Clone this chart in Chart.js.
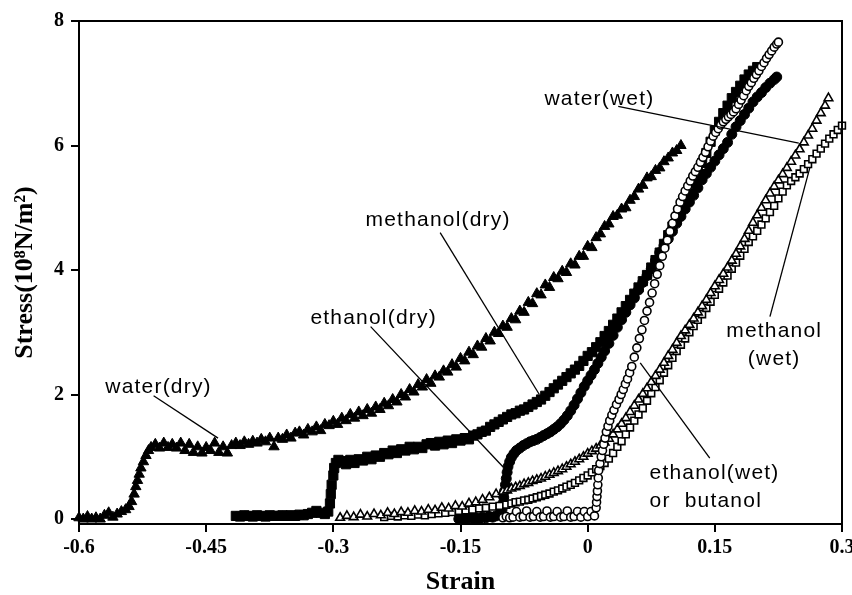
<!DOCTYPE html>
<html>
<head>
<meta charset="utf-8">
<script src="https://cdn.jsdelivr.net/npm/chart.js@4.4.0/dist/chart.umd.min.js"></script>
<style>
  body { margin: 0; background: #fff; }
  canvas { display: block; }
</style>
</head>
<body>
<canvas id="stressChart" width="852" height="595"></canvas>
<script>
// Оси
const xTicks = [-0.6, -0.45, -0.3, -0.15, 0, 0.15, 0.3];
const yTicks = [0, 2, 4, 6, 8];

// water(dry) - закрашенные треугольники
const waterDryStrain = [-0.600, -0.595, -0.590, -0.585, -0.580, -0.575, -0.570, -0.565, -0.560, -0.555, -0.550, -0.545, -0.541,
  -0.538, -0.535, -0.533, -0.531, -0.529, -0.527, -0.524, -0.521, -0.518, -0.515, -0.510, -0.505, -0.500, -0.495, -0.490,
  -0.485, -0.480, -0.475, -0.470, -0.465, -0.460, -0.455, -0.450, -0.445, -0.440, -0.435, -0.430, -0.425, -0.420, -0.415,
  -0.410, -0.405, -0.400, -0.395, -0.390, -0.385, -0.380, -0.375, -0.370, -0.365, -0.360, -0.355, -0.350, -0.345, -0.340,
  -0.335, -0.330, -0.325, -0.320, -0.315, -0.310, -0.305, -0.300, -0.295, -0.290, -0.285, -0.280, -0.275, -0.270, -0.265,
  -0.260, -0.255, -0.250, -0.245, -0.240, -0.235, -0.230, -0.225, -0.220, -0.215, -0.210, -0.205, -0.200, -0.195, -0.190,
  -0.185, -0.180, -0.175, -0.170, -0.165, -0.160, -0.155, -0.150, -0.145, -0.140, -0.135, -0.130, -0.125, -0.120, -0.115,
  -0.110, -0.105, -0.100, -0.095, -0.090, -0.085, -0.080, -0.075, -0.070, -0.065, -0.060, -0.055, -0.050, -0.045, -0.040,
  -0.035, -0.030, -0.025, -0.020, -0.015, -0.010, -0.005, 0.000, 0.005, 0.010, 0.015, 0.020, 0.025, 0.030, 0.035, 0.040,
  0.045, 0.050, 0.055, 0.060, 0.065, 0.070, 0.075, 0.080, 0.085, 0.090, 0.095, 0.100, 0.105, 0.110];
const waterDryStress = [0.02, 0.00, 0.04, 0.00, 0.02, 0.00, 0.06, 0.10, 0.03, 0.08, 0.12, 0.15, 0.20,
  0.28, 0.40, 0.52, 0.62, 0.72, 0.82, 0.92, 1.02, 1.10, 1.15, 1.20, 1.14, 1.22, 1.15, 1.20,
  1.14, 1.22, 1.10, 1.20, 1.07, 1.16, 1.06, 1.15, 1.10, 1.22, 1.07, 1.16, 1.06, 1.18, 1.22,
  1.18, 1.24, 1.20, 1.25, 1.22, 1.28, 1.24, 1.30, 1.16, 1.30, 1.28, 1.35, 1.30, 1.38, 1.40,
  1.35, 1.44, 1.40, 1.48, 1.42, 1.52, 1.50, 1.57, 1.52, 1.62, 1.58, 1.68, 1.62, 1.72, 1.66,
  1.76, 1.70, 1.80, 1.76, 1.86, 1.82, 1.92, 1.88, 2.00, 1.96, 2.08, 2.04, 2.16, 2.12, 2.24,
  2.18, 2.30, 2.28, 2.38, 2.36, 2.48, 2.44, 2.58, 2.54, 2.68, 2.64, 2.78, 2.76, 2.90, 2.86,
  3.00, 2.98, 3.10, 3.08, 3.22, 3.20, 3.34, 3.32, 3.48, 3.46, 3.62, 3.60, 3.76, 3.72, 3.88,
  3.86, 3.98, 3.96, 4.10, 4.08, 4.22, 4.22, 4.38, 4.36, 4.52, 4.58, 4.70, 4.74, 4.86, 4.88, 4.98,
  5.00, 5.12, 5.18, 5.30, 5.36, 5.48, 5.50, 5.60, 5.64, 5.74, 5.80, 5.88, 5.92, 6.00];

// methanol(dry) - закрашенные квадраты
const methanolDryStrain = [-0.415, -0.410, -0.405, -0.400, -0.395, -0.390, -0.385, -0.380, -0.375, -0.370, -0.365, -0.360,
  -0.355, -0.350, -0.345, -0.340, -0.335, -0.330, -0.325, -0.320, -0.315, -0.310, -0.306, -0.304, -0.303, -0.302, -0.300,
  -0.299, -0.297, -0.294, -0.290, -0.285, -0.280, -0.275, -0.270, -0.265, -0.260, -0.255, -0.250, -0.245, -0.240, -0.235,
  -0.230, -0.225, -0.220, -0.215, -0.210, -0.205, -0.200, -0.195, -0.190, -0.185, -0.180, -0.175, -0.170, -0.165, -0.160,
  -0.155, -0.150, -0.145, -0.140, -0.135, -0.130, -0.125, -0.120, -0.115, -0.110, -0.105, -0.100, -0.095, -0.090, -0.085,
  -0.080, -0.075, -0.070, -0.065, -0.060, -0.055, -0.050, -0.045, -0.040, -0.035, -0.030, -0.025, -0.020, -0.015, -0.010,
  -0.005, 0.000, 0.005, 0.010, 0.015, 0.020, 0.025, 0.030, 0.035, 0.040, 0.045, 0.050, 0.055, 0.060, 0.065, 0.070, 0.075,
  0.080, 0.085, 0.090, 0.095, 0.100, 0.105, 0.110, 0.115, 0.120, 0.125, 0.130, 0.135, 0.140, 0.145, 0.150, 0.155, 0.160,
  0.165, 0.170, 0.175, 0.180, 0.185, 0.190, 0.195, 0.200];
const methanolDryStress = [0.05, 0.04, 0.06, 0.05, 0.04, 0.06, 0.05, 0.04, 0.06, 0.05, 0.05, 0.06,
  0.05, 0.06, 0.05, 0.07, 0.06, 0.08, 0.10, 0.13, 0.10, 0.08, 0.12, 0.25, 0.40, 0.55, 0.70,
  0.82, 0.90, 0.95, 0.93, 0.88, 0.95, 0.90, 0.96, 0.94, 1.00, 0.96, 1.02, 1.00, 1.06, 1.04,
  1.10, 1.06, 1.12, 1.10, 1.16, 1.12, 1.16, 1.14, 1.20, 1.22, 1.18, 1.24, 1.20, 1.26, 1.22,
  1.28, 1.26, 1.30, 1.28, 1.34, 1.36, 1.40, 1.42, 1.48, 1.52, 1.56, 1.60, 1.64, 1.68, 1.70,
  1.74, 1.76, 1.80, 1.84, 1.88, 1.92, 1.98, 2.04, 2.10, 2.16, 2.22, 2.28, 2.34, 2.40, 2.46,
  2.54, 2.62, 2.68, 2.76, 2.84, 2.94, 3.02, 3.12, 3.22, 3.32, 3.42, 3.52, 3.62, 3.72, 3.82, 3.92, 4.04,
  4.16, 4.28, 4.42, 4.56, 4.70, 4.82, 4.96, 5.10, 5.24, 5.40, 5.56, 5.72, 5.88, 6.06, 6.24, 6.38, 6.52,
  6.64, 6.76, 6.86, 6.96, 7.06, 7.14, 7.20, 7.26];

// ethanol(dry) - закрашенные кружки
const ethanolDryStrain = [-0.152, -0.148, -0.144, -0.140, -0.136, -0.132, -0.128, -0.124, -0.120, -0.116, -0.112, -0.108,
  -0.104, -0.101, -0.100, -0.099, -0.098, -0.097, -0.096, -0.095, -0.094, -0.092, -0.090, -0.087, -0.084, -0.080, -0.076,
  -0.072, -0.068, -0.064, -0.060, -0.056, -0.052, -0.048, -0.044, -0.040, -0.036, -0.032, -0.028, -0.024, -0.020, -0.016,
  -0.012, -0.008, -0.004, 0.000, 0.004, 0.008, 0.012, 0.016, 0.020, 0.025, 0.030, 0.035, 0.040, 0.045, 0.050, 0.055, 0.060,
  0.065, 0.070, 0.075, 0.080, 0.085, 0.090, 0.095, 0.100, 0.105, 0.110, 0.115, 0.120, 0.125, 0.130, 0.135, 0.140, 0.145,
  0.150, 0.155, 0.160, 0.165, 0.170, 0.175, 0.180, 0.185, 0.190, 0.195, 0.200, 0.205, 0.210, 0.215, 0.220, 0.223];
const ethanolDryStress = [0.00, 0.02, 0.00, 0.03, 0.01, 0.02, 0.00, 0.03, 0.02, 0.04, 0.03, 0.05,
  0.08, 0.15, 0.25, 0.35, 0.45, 0.55, 0.65, 0.75, 0.84, 0.92, 0.99, 1.05, 1.10, 1.14, 1.18,
  1.21, 1.24, 1.26, 1.28, 1.31, 1.34, 1.37, 1.40, 1.44, 1.48, 1.53, 1.59, 1.66, 1.74, 1.83,
  1.93, 2.03, 2.13, 2.22, 2.31, 2.40, 2.50, 2.60, 2.70, 2.82, 2.95, 3.08, 3.20, 3.32, 3.44, 3.55, 3.68,
  3.80, 3.91, 4.02, 4.15, 4.28, 4.39, 4.50, 4.62, 4.75, 4.86, 4.98, 5.09, 5.20, 5.32, 5.45, 5.55, 5.65,
  5.75, 5.85, 5.95, 6.05, 6.18, 6.30, 6.40, 6.50, 6.60, 6.70, 6.78, 6.85, 6.93, 7.00, 7.06, 7.10];

// water(wet) - открытые кружки
const waterWetStrain = [-0.100, -0.096, -0.092, -0.088, -0.084, -0.080, -0.076, -0.072, -0.068, -0.064, -0.060, -0.056, -0.052,
  -0.048, -0.044, -0.040, -0.036, -0.032, -0.028, -0.024, -0.020, -0.016, -0.012, -0.008, -0.004, 0.000, 0.004, 0.008,
  0.010, 0.0105, 0.011, 0.0115, 0.012, 0.0125, 0.013, 0.0145, 0.016, 0.0175, 0.019, 0.0205, 0.022, 0.024, 0.026, 0.0285,
  0.031, 0.034, 0.037, 0.0395, 0.042, 0.0445, 0.047, 0.0495, 0.052, 0.055, 0.058, 0.061, 0.064, 0.067, 0.070, 0.073, 0.076,
  0.079, 0.082, 0.085, 0.088, 0.091, 0.094, 0.097, 0.100, 0.103, 0.106, 0.109, 0.112, 0.115, 0.118, 0.121, 0.124, 0.127,
  0.130, 0.133, 0.136, 0.139, 0.142, 0.145, 0.148, 0.151, 0.154, 0.157, 0.160, 0.163, 0.166, 0.169, 0.172, 0.175, 0.178,
  0.181, 0.184, 0.187, 0.190, 0.193, 0.196, 0.199, 0.202, 0.205, 0.208, 0.211, 0.214, 0.217, 0.220, 0.223, 0.225];
const waterWetStress = [0.02, 0.04, 0.02, 0.03, 0.12, 0.03, 0.04, 0.13, 0.03, 0.04, 0.12, 0.03, 0.04,
  0.13, 0.03, 0.04, 0.12, 0.03, 0.04, 0.13, 0.03, 0.04, 0.12, 0.03, 0.12, 0.04, 0.12, 0.05,
  0.18, 0.27, 0.36, 0.45, 0.55, 0.66, 0.78, 0.89, 1.00, 1.10, 1.20, 1.30, 1.40, 1.49, 1.58, 1.67,
  1.75, 1.84, 1.92, 2.00, 2.08, 2.17, 2.25, 2.35, 2.45, 2.60, 2.75, 2.90, 3.04, 3.19, 3.34, 3.48, 3.63,
  3.78, 3.93, 4.07, 4.22, 4.35, 4.48, 4.62, 4.75, 4.87, 4.98, 5.09, 5.18, 5.27, 5.35, 5.43, 5.51, 5.58,
  5.65, 5.73, 5.81, 5.89, 5.98, 6.07, 6.15, 6.21, 6.27, 6.33, 6.38, 6.42, 6.46, 6.50, 6.54, 6.59, 6.66,
  6.73, 6.80, 6.88, 6.95, 7.01, 7.08, 7.14, 7.20, 7.27, 7.33, 7.40, 7.46, 7.52, 7.58, 7.63, 7.66];

// methanol(wet) - открытые треугольники
const methanolWetStrain = [-0.292, -0.284, -0.276, -0.268, -0.260, -0.252, -0.244, -0.236, -0.228, -0.220, -0.212, -0.204,
  -0.196, -0.188, -0.180, -0.172, -0.164, -0.156, -0.148, -0.140, -0.132, -0.124, -0.116, -0.108, -0.100, -0.095, -0.090,
  -0.085, -0.080, -0.075, -0.070, -0.065, -0.060, -0.055, -0.050, -0.045, -0.040, -0.035, -0.030, -0.025, -0.020, -0.015,
  -0.010, -0.005, 0.000, 0.005, 0.010, 0.015, 0.020, 0.025, 0.030, 0.035, 0.040, 0.045, 0.050, 0.055, 0.060, 0.065, 0.070,
  0.075, 0.080, 0.085, 0.090, 0.095, 0.100, 0.105, 0.110, 0.115, 0.120, 0.125, 0.130, 0.135, 0.140, 0.145, 0.150, 0.155,
  0.160, 0.165, 0.170, 0.175, 0.180, 0.185, 0.190, 0.195, 0.200, 0.205, 0.210, 0.215, 0.220, 0.225, 0.230, 0.235, 0.240,
  0.245, 0.250, 0.255, 0.260, 0.265, 0.270, 0.275, 0.280, 0.284];
const methanolWetStress = [0.02, 0.05, 0.03, 0.07, 0.04, 0.08, 0.06, 0.10, 0.08, 0.11, 0.10, 0.13,
  0.12, 0.15, 0.14, 0.18, 0.17, 0.21, 0.20, 0.25, 0.27, 0.31, 0.35, 0.40, 0.44, 0.46, 0.49,
  0.51, 0.53, 0.56, 0.58, 0.61, 0.63, 0.65, 0.68, 0.71, 0.74, 0.77, 0.80, 0.84, 0.88, 0.92,
  0.96, 1.00, 1.05, 1.09, 1.13, 1.18, 1.23, 1.29, 1.36, 1.44, 1.53, 1.62, 1.72, 1.82, 1.92, 2.01, 2.10,
  2.20, 2.30, 2.40, 2.51, 2.62, 2.72, 2.83, 2.94, 3.03, 3.12, 3.22, 3.32, 3.42, 3.52, 3.63, 3.74, 3.84,
  3.94, 4.04, 4.15, 4.26, 4.38, 4.50, 4.63, 4.76, 4.88, 5.00, 5.12, 5.23, 5.34, 5.44, 5.54, 5.64, 5.74,
  5.84, 5.94, 6.05, 6.16, 6.27, 6.40, 6.52, 6.64, 6.76];

// ethanol(wet) or butanol - открытые квадраты
const ethanolWetStrain = [-0.240, -0.232, -0.224, -0.216, -0.208, -0.200, -0.192, -0.184, -0.176, -0.168, -0.160, -0.152,
  -0.144, -0.136, -0.128, -0.120, -0.112, -0.104, -0.096, -0.090, -0.085, -0.080, -0.075, -0.070, -0.065, -0.060, -0.055,
  -0.050, -0.045, -0.040, -0.035, -0.030, -0.025, -0.020, -0.015, -0.010, -0.005, 0.000, 0.005, 0.010, 0.015, 0.020, 0.025,
  0.030, 0.035, 0.040, 0.045, 0.050, 0.055, 0.060, 0.065, 0.070, 0.075, 0.080, 0.085, 0.090, 0.095, 0.100, 0.105, 0.110,
  0.115, 0.120, 0.125, 0.130, 0.135, 0.140, 0.145, 0.150, 0.155, 0.160, 0.165, 0.170, 0.175, 0.180, 0.185, 0.190, 0.195,
  0.200, 0.205, 0.210, 0.215, 0.220, 0.225, 0.230, 0.235, 0.240, 0.245, 0.250, 0.255, 0.260, 0.265, 0.270, 0.275, 0.280,
  0.285, 0.290, 0.295, 0.300];
const ethanolWetStress = [0.03, 0.05, 0.04, 0.06, 0.05, 0.07, 0.06, 0.08, 0.09, 0.10, 0.11, 0.13,
  0.14, 0.15, 0.17, 0.18, 0.20, 0.21, 0.23, 0.25, 0.27, 0.28, 0.30, 0.31, 0.33, 0.35, 0.37,
  0.39, 0.41, 0.44, 0.46, 0.49, 0.52, 0.55, 0.58, 0.62, 0.66, 0.70, 0.75, 0.80, 0.85, 0.90, 0.97,
  1.06, 1.16, 1.25, 1.36, 1.47, 1.58, 1.68, 1.78, 1.90, 2.02, 2.12, 2.23, 2.35, 2.47, 2.59, 2.70, 2.80,
  2.90, 3.00, 3.10, 3.20, 3.29, 3.39, 3.49, 3.60, 3.70, 3.80, 3.91, 4.02, 4.12, 4.23, 4.34, 4.45, 4.54,
  4.63, 4.73, 4.83, 4.93, 5.03, 5.15, 5.26, 5.36, 5.43, 5.49, 5.55, 5.62, 5.70, 5.78, 5.87, 5.95, 6.03,
  6.11, 6.18, 6.25, 6.32];

// Подписи со сносками (координаты в единицах данных)
const notes = [
  { lines: ['water(dry)'], x: -0.569, y: 2.11, align: 'left', from: [-0.512, 1.98], to: [-0.436, 1.30] },
  { lines: ['ethanol(dry)'], x: -0.327, y: 3.23, align: 'left', from: [-0.256, 3.09], to: [-0.100, 0.84] },
  { lines: ['methanol(dry)'], x: -0.262, y: 4.80, align: 'left', from: [-0.174, 4.60], to: [-0.057, 2.00] },
  { lines: ['water(wet)'], x: -0.051, y: 6.75, align: 'left', from: [0.036, 6.63], to: [0.249, 6.04] },
  { lines: ['methanol', '(wet)'], x: 0.220, y: 3.01, align: 'center', from: [0.215, 3.25], to: [0.262, 5.64] },
  { lines: ['ethanol(wet)', 'or  butanol'], x: 0.073, y: 0.74, align: 'left', from: [0.144, 0.98], to: [0.062, 2.51] }
];

function pts(xs, ys) {
  return xs.map((x, i) => ({ x: x, y: ys[i] }));
}

const serif = '"Liberation Serif", "Times New Roman", serif';

// Рамка и подписи
const notesPlugin = {
  id: 'notes',
  afterDraw(chart) {
    const ctx = chart.ctx;
    const xs = chart.scales.x, ys = chart.scales.y;
    const a = chart.chartArea;
    ctx.save();
    ctx.strokeStyle = '#000';
    ctx.lineWidth = 2;
    ctx.strokeRect(a.left, a.top, a.right - a.left, a.bottom - a.top);

    ctx.lineWidth = 1.3;
    ctx.fillStyle = '#000';
    ctx.font = '21px "Liberation Sans", Arial, sans-serif';
    ctx.letterSpacing = '1.2px';
    ctx.textBaseline = 'middle';
    notes.forEach(n => {
      ctx.beginPath();
      ctx.moveTo(xs.getPixelForValue(n.from[0]), ys.getPixelForValue(n.from[1]));
      ctx.lineTo(xs.getPixelForValue(n.to[0]), ys.getPixelForValue(n.to[1]));
      ctx.stroke();
      ctx.textAlign = n.align;
      const px = xs.getPixelForValue(n.x);
      const py = ys.getPixelForValue(n.y);
      n.lines.forEach((t, i) => ctx.fillText(t, px, py + i * 28));
    });
    ctx.restore();
  }
};

const filled = { backgroundColor: '#000', borderColor: '#000', borderWidth: 1, showLine: false, clip: false };
const open = { backgroundColor: '#fff', borderColor: '#000', borderWidth: 1.6, showLine: false, clip: false };

new Chart(document.getElementById('stressChart'), {
  type: 'scatter',
  data: {
    datasets: [
      Object.assign({ label: 'water(wet)', data: pts(waterWetStrain, waterWetStress), pointStyle: 'circle', pointRadius: 4, order: 0 }, open),
      Object.assign({ label: 'methanol(wet)', data: pts(methanolWetStrain, methanolWetStress), pointStyle: 'triangle', pointRadius: 5, order: 1 }, open),
      Object.assign({ label: 'ethanol(wet) or butanol', data: pts(ethanolWetStrain, ethanolWetStress), pointStyle: 'rect', pointRadius: 4.8, order: 2 }, open),
      Object.assign({ label: 'ethanol(dry)', data: pts(ethanolDryStrain, ethanolDryStress), pointStyle: 'circle', pointRadius: 5, order: 3 }, filled),
      Object.assign({ label: 'methanol(dry)', data: pts(methanolDryStrain, methanolDryStress), pointStyle: 'rect', pointRadius: 6.5, order: 4 }, filled),
      Object.assign({ label: 'water(dry)', data: pts(waterDryStrain, waterDryStress), pointStyle: 'triangle', pointRadius: 6, order: 5 }, filled)
    ]
  },
  options: {
    responsive: false,
    animation: false,
    devicePixelRatio: 1,
    layout: { padding: { left: 0, right: 10, top: 21, bottom: 0 } },
    plugins: { legend: { display: false }, tooltip: { enabled: false } },
    scales: {
      x: {
        type: 'linear',
        min: -0.6,
        max: 0.3,
        afterBuildTicks: s => { s.ticks = xTicks.map(v => ({ value: v })); },
        afterFit: s => { s.height = 71; s.paddingLeft = 0; s.paddingRight = 0; },
        grid: { drawOnChartArea: false, color: '#000', lineWidth: 2, tickLength: 8 },
        border: { color: '#000', width: 2 },
        ticks: {
          color: '#000', padding: 4, maxRotation: 0,
          font: { family: serif, weight: 'bold', size: 20 },
          callback: v => String(v)
        },
        title: {
          display: true, text: 'Strain', color: '#000',
          font: { family: serif, weight: 'bold', size: 26, lineHeight: 1 },
          padding: { top: 0, bottom: 0 }
        }
      },
      y: {
        type: 'linear',
        min: -0.08,
        max: 8,
        afterBuildTicks: s => { s.ticks = yTicks.map(v => ({ value: v })); },
        afterFit: s => { s.width = 79; s.paddingTop = 0; s.paddingBottom = 0; },
        grid: { drawOnChartArea: false, color: '#000', lineWidth: 2, tickLength: 8 },
        border: { color: '#000', width: 2 },
        ticks: {
          color: '#000', padding: 7,
          font: { family: serif, weight: 'bold', size: 20 },
          callback: v => String(v)
        },
        title: {
          display: true, text: 'Stress(10⁸N/m²)', color: '#000',
          font: { family: serif, weight: 'bold', size: 26, lineHeight: 1 },
          padding: { top: 12, bottom: 0 }
        }
      }
    }
  },
  plugins: [notesPlugin]
});
</script>
</body>
</html>
